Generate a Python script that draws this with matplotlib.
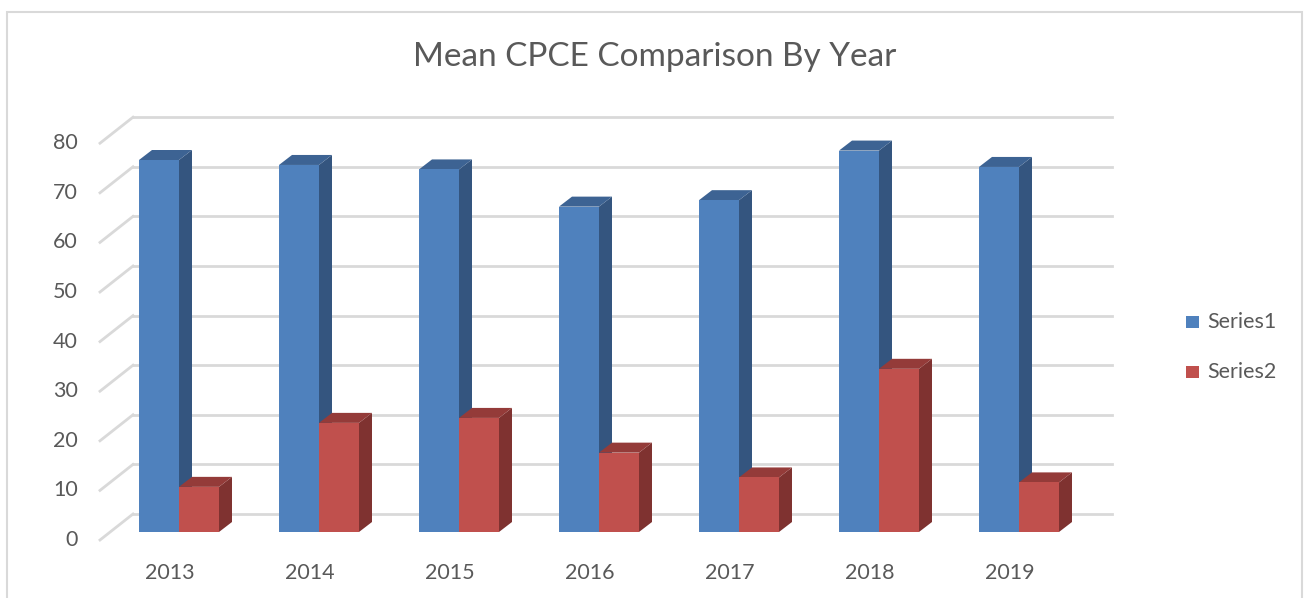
"""Mean CPCE comparison by year: Excel-style 3D clustered columns."""

import matplotlib.pyplot as plt
from matplotlib.patches import Polygon, Rectangle

years = ["2013", "2014", "2015", "2016", "2017", "2018", "2019"]
series1 = [75.0, 74.0, 73.1, 65.6, 66.9, 76.9, 73.6]
series2 = [9.1, 22.0, 23.0, 16.0, 11.0, 32.9, 10.0]
grid_values = [0, 10, 20, 30, 40, 50, 60, 70, 80]

BLUE = ("#4F81BD", "#34557F", "#3D6393")  # front, side, top
RED = ("#C0504D", "#7F3230", "#943B39")
TEXT = "#595959"
GRID = "#D9D9D9"
FONT = "Lato"

# pixel geometry of the reference, mapped into data units
PX_PER_CAT = 140.0
PX_PER_UNIT = 4.96
BAR_W = 40 / PX_PER_CAT
DEPTH_X = 13 / PX_PER_CAT
DEPTH_Y = 10 / PX_PER_UNIT
BACK_X0, BACK_X1 = (133 - 179) / PX_PER_CAT, (1112 - 179) / PX_PER_CAT
BACK_DY = 18 / PX_PER_UNIT
FRONT_X = (100 - 179) / PX_PER_CAT
FRONT_DY = -8 / PX_PER_UNIT

fig = plt.figure(figsize=(13.04, 5.98), dpi=100)
ax = fig.add_axes([0, 0, 1, 1])
ax.set_xlim(-179 / PX_PER_CAT, (1304 - 179) / PX_PER_CAT)
ax.set_ylim((532 - 598) / PX_PER_UNIT, 532 / PX_PER_UNIT)
ax.axis("off")

# chart border
fig.patches.append(Rectangle((7 / 1304, -0.1), 1295 / 1304, 1 - 12 / 598 + 0.1,
                             transform=fig.transFigure, fill=False,
                             edgecolor=GRID, lw=1.5))

# gridlines: back wall plus the slanted floor/side edge
for g in grid_values:
    ax.plot([BACK_X0, BACK_X1], [g + BACK_DY] * 2, color=GRID, lw=2, zorder=1)
    ax.plot([FRONT_X, BACK_X0], [g + FRONT_DY, g + BACK_DY], color=GRID, lw=2, zorder=1)
    ax.text(FRONT_X - 22 / PX_PER_CAT, g + FRONT_DY, str(g), ha="right", va="center",
            fontsize=15.5, color=TEXT, family=FONT)


def draw_bar(x0, v, colors):
    front, side, top = colors
    x1 = x0 + BAR_W
    ax.add_patch(Polygon([(x1, 0), (x1 + DEPTH_X, DEPTH_Y), (x1 + DEPTH_X, v + DEPTH_Y), (x1, v)],
                         closed=True, facecolor=side, edgecolor="none", zorder=2))
    ax.add_patch(Polygon([(x0, v), (x1, v), (x1 + DEPTH_X, v + DEPTH_Y), (x0 + DEPTH_X, v + DEPTH_Y)],
                         closed=True, facecolor=top, edgecolor="none", zorder=2))
    ax.bar(x0, v, width=BAR_W, align="edge", color=front, edgecolor="none", zorder=2)


for i, (a, b) in enumerate(zip(series1, series2)):
    draw_bar(i - BAR_W, a, BLUE)
    draw_bar(i, b, RED)
    ax.text(i - 9 / PX_PER_CAT, (532 - 573) / PX_PER_UNIT, years[i], ha="center",
            va="center", fontsize=15.5, color=TEXT, family=FONT)

fig.text(655 / 1304, 1 - 57 / 598, "Mean CPCE Comparison By Year", ha="center",
         va="center", fontsize=24, color=TEXT, family=FONT)

# legend
for k, (name, col) in enumerate([("Series1", BLUE[0]), ("Series2", RED[0])]):
    yc = 1 - (322 + 50 * k) / 598
    fig.patches.append(Rectangle((1186 / 1304, yc - 6 / 598), 13 / 1304, 12 / 598,
                                 transform=fig.transFigure, facecolor=col, edgecolor="none"))
    fig.text(1207 / 1304, yc, name, ha="left", va="center", fontsize=15.5,
             color=TEXT, family=FONT)

fig.savefig("out.png", dpi=100)
